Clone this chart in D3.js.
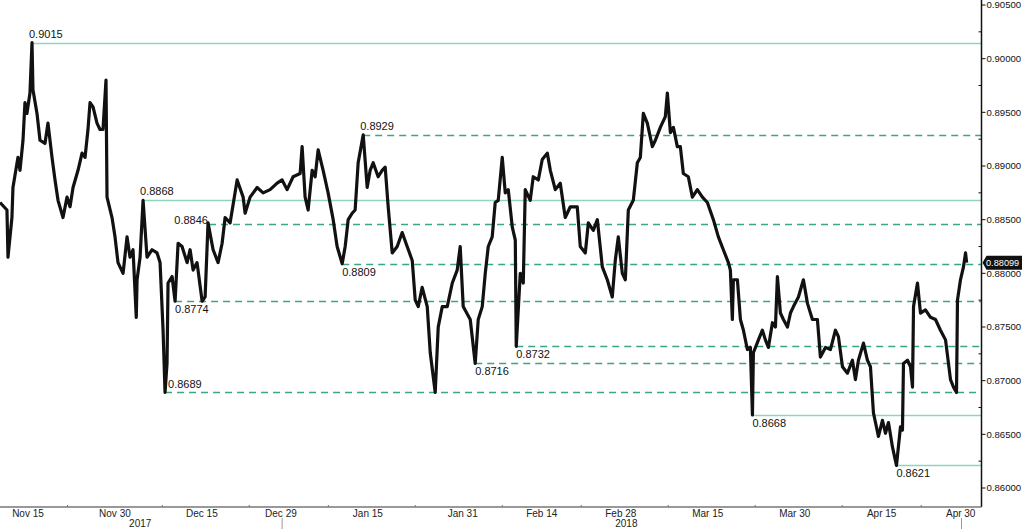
<!DOCTYPE html>
<html>
<head>
<meta charset="utf-8">
<script src="https://cdn.jsdelivr.net/npm/d3@7"></script>
<style>
  body { margin: 0; background: #fff; }
  svg { display: block; font-family: "Liberation Sans", Arial, sans-serif; }
</style>
</head>
<body>
<svg id="chart"></svg>
<script>
// EURGBP, hourly, Nov 2017 - Apr 2018 (weekends removed)
// days = trading days counted from Mon 13 Nov 2017

const days = [
  -1.54, -0.66, -0.53, -0.03, 0.10, 0.73, 0.99, 1.37, 1.62, 1.87, 2.25, 2.51, 2.63, 3.14, 3.52,
  4.15, 4.53, 5.04, 5.42, 5.80, 6.43, 6.94, 7.32, 7.70, 8.33, 8.84, 9.22, 9.59, 9.85, 10.23,
  10.73, 11.11, 11.49, 11.87, 12.00, 12.63, 13.01, 13.39, 14.03, 14.53, 14.91, 15.29, 15.70, 15.80,
  16.18, 16.56, 17.06, 17.70, 18.33, 18.71, 19.09, 19.34, 19.59, 19.72, 20.23, 20.61, 20.99, 21.49,
  22.13, 22.51, 22.89, 23.39, 24.03, 24.41, 24.78, 25.42, 26.05, 26.56, 26.94, 27.57, 28.46, 29.22,
  29.47, 30.10, 30.99, 31.75, 32.63, 33.52, 34.15, 34.78, 35.54, 36.43, 36.68, 37.06, 37.44, 37.95,
  38.33, 38.71, 39.34, 39.97, 40.61, 41.11, 41.75, 42.13, 42.51, 43.01, 43.39, 43.77, 44.41, 44.91,
  45.29, 45.67, 46.30, 46.81, 47.19, 47.57, 48.08, 48.71, 49.34, 49.97, 50.61, 50.99, 51.37, 51.87,
  52.51, 52.89, 53.52, 53.90, 54.41, 55.04, 55.68, 56.30, 56.68, 57.06, 57.95, 58.58, 58.96, 59.47,
  59.85, 60.23, 60.73, 61.11, 61.49, 62.00, 62.38, 62.76, 63.27, 63.65, 63.77, 64.28, 64.66, 64.91,
  65.54, 65.92, 66.56, 67.06, 67.70, 68.08, 68.71, 69.34, 69.97, 70.61, 71.49, 71.87, 72.51, 72.89,
  73.52, 74.03, 74.66, 75.29, 75.92, 76.30, 76.68, 77.19, 77.57, 77.95, 78.58, 79.09, 79.47, 79.85,
  80.35, 80.99, 81.37, 82.00, 82.63, 82.89, 83.27, 83.65, 84.15, 84.53, 84.91, 85.54, 86.05, 86.68,
  87.32, 87.95, 88.71, 89.34, 89.97, 90.61, 90.86, 91.11, 91.24, 91.75, 92.13, 92.51, 93.01, 93.39,
  93.65, 93.77, 94.41, 94.91, 95.29, 95.67, 96.18, 96.56, 96.81, 97.19, 97.57, 98.08, 98.46, 98.84,
  99.47, 100.10, 100.61, 101.24, 101.87, 102.25, 102.89, 103.52, 104.15, 104.53, 105.04, 105.67,
  106.30, 106.68, 107.06, 107.70, 108.20, 108.58, 108.96, 109.22, 109.59, 110.10, 110.48, 110.86,
  111.37, 111.87, 112.38, 112.63, 112.76, 113.27, 113.65, 113.90, 114.03, 114.53, 114.91, 115.54,
  116.18, 116.81, 117.44, 118.08, 118.71, 119.09, 119.47, 119.59, 119.97, 120.35, 120.61, 120.75
];

const prices = [
  0.8866, 0.8859, 0.8815, 0.8852, 0.8880, 0.8908, 0.8896, 0.8924, 0.8959, 0.8949, 0.8968, 0.9015, 0.8971, 0.8949, 0.8924,
  0.8921, 0.8940, 0.8908, 0.8887, 0.8868, 0.8852, 0.8871, 0.8862, 0.8880, 0.8896, 0.8912, 0.8908, 0.8934, 0.8959, 0.8955,
  0.8940, 0.8934, 0.8934, 0.8980, 0.8871, 0.8852, 0.8834, 0.8810, 0.8800, 0.8834, 0.8815, 0.8822, 0.8759, 0.8794,
  0.8815, 0.8868, 0.8815, 0.8822, 0.8819, 0.8810, 0.8747, 0.8689, 0.8716, 0.8791, 0.8797, 0.8774, 0.8828, 0.8825,
  0.8810, 0.8822, 0.8803, 0.8810, 0.8774, 0.8778, 0.8847, 0.8822, 0.8810, 0.8828, 0.8852, 0.8847, 0.8887, 0.8871,
  0.8856, 0.8871, 0.8880, 0.8875, 0.8878, 0.8884, 0.8887, 0.8878, 0.8890, 0.8893, 0.8918, 0.8871, 0.8859, 0.8896,
  0.8890, 0.8915, 0.8896, 0.8875, 0.8850, 0.8825, 0.8809, 0.8825, 0.8850, 0.8856, 0.8859, 0.8903, 0.8929, 0.8880,
  0.8896, 0.8903, 0.8890, 0.8896, 0.8899, 0.8862, 0.8819, 0.8825, 0.8838, 0.8825, 0.8812, 0.8775, 0.8769, 0.8787,
  0.8769, 0.8726, 0.8689, 0.8750, 0.8769, 0.8769, 0.8791, 0.8803, 0.8825, 0.8769, 0.8757, 0.8716, 0.8757, 0.8769,
  0.8800, 0.8825, 0.8834, 0.8866, 0.8868, 0.8908, 0.8875, 0.8878, 0.8843, 0.8831, 0.8732, 0.8800, 0.8791, 0.8878,
  0.8868, 0.8890, 0.8887, 0.8906, 0.8912, 0.8896, 0.8878, 0.8884, 0.8852, 0.8862, 0.8862, 0.8825, 0.8819, 0.8847,
  0.8840, 0.8850, 0.8806, 0.8794, 0.8778, 0.8812, 0.8834, 0.8800, 0.8794, 0.8859, 0.8868, 0.8903, 0.8908, 0.8949,
  0.8940, 0.8918, 0.8924, 0.8936, 0.8946, 0.8968, 0.8931, 0.8936, 0.8918, 0.8918, 0.8893, 0.8890, 0.8871, 0.8878,
  0.8871, 0.8866, 0.8850, 0.8834, 0.8822, 0.8810, 0.8803, 0.8757, 0.8794, 0.8794, 0.8757, 0.8747, 0.8729, 0.8731,
  0.8668, 0.8726, 0.8738, 0.8747, 0.8738, 0.8731, 0.8754, 0.8750, 0.8797, 0.8763, 0.8757, 0.8750, 0.8763, 0.8769,
  0.8778, 0.8794, 0.8772, 0.8757, 0.8757, 0.8722, 0.8731, 0.8729, 0.8747, 0.8741, 0.8713, 0.8707,
  0.8719, 0.8701, 0.8719, 0.8735, 0.8719, 0.8713, 0.8670, 0.8661, 0.8648, 0.8663, 0.8651, 0.8661,
  0.8638, 0.8621, 0.8657, 0.8654, 0.8716, 0.8719, 0.8713, 0.8694, 0.8769, 0.8791, 0.8763, 0.8766,
  0.8759, 0.8757, 0.8747, 0.8738, 0.8701, 0.8694, 0.8689, 0.8775, 0.8794, 0.8806, 0.8819, 0.8810
];

const lastPrice = 0.88099;

// highs / lows marked on the chart
const levelValues = [0.9015, 0.8929, 0.8868, 0.8846, 0.8809, 0.8774, 0.8732, 0.8716, 0.8689, 0.8668, 0.8621];
const levelDays   = [2.51, 44.41, 16.56, 24.9, 41.75, 20.61, 63.77, 58.58, 19.34, 93.65, 111.87];
const levelKinds  = ["high", "high", "high", "high", "low", "low", "low", "low", "low", "low", "low"];

// axis ticks
const priceTicks = d3.range(0, 10).map(k => +(0.86 + k * 0.005).toFixed(3));
const dateTickDays = [2, 13, 24, 34, 45, 57, 67, 77, 88, 99, 110, 120];
const dateTickLabels = ["Nov 15", "Nov 30", "Dec 15", "Dec 29", "Jan 15", "Jan 31",
                        "Feb 14", "Feb 28", "Mar 15", "Mar 30", "Apr 15", "Apr 30"];
const minorTickDays = [7, 19, 30, 40, 51, 62, 72, 83, 94, 105, 115];
const yearLabels = ["2017", "2018"];
const yearLabelDays = [16.2, 77.7];
const yearBreakDays = [34.15, 120.1];

// layout
const width = 1023;
const height = 529;
const plotRight = 981.5;
const plotBottom = 507;

const solidLevels = [0.9015, 0.8868, 0.8668, 0.8621];
const solidColor = "#8dd5bd";
const dashColor = "#3aa587";

const x = d3.scaleLinear().domain([-1.54, 122.63]).range([0, plotRight]);
const y = d3.scaleLinear().domain([0.86, 0.905]).range([488, 5]);

const svg = d3.select("#chart")
  .attr("width", width)
  .attr("height", height);

svg.append("rect").attr("width", width).attr("height", height).attr("fill", "#fff");

// level lines

const levels = levelValues.map((v, i) => ({ v: v, day: levelDays[i], kind: levelKinds[i] }));

svg.append("g").selectAll("line")
  .data(levels)
  .enter()
  .append("line")
  .attr("x1", d => x(d.day))
  .attr("x2", plotRight)
  .attr("y1", d => Math.round(y(d.v)) + 0.5)
  .attr("y2", d => Math.round(y(d.v)) + 0.5)
  .attr("stroke", d => solidLevels.includes(d.v) ? solidColor : dashColor)
  .attr("stroke-width", d => solidLevels.includes(d.v) ? 1.6 : 1.3)
  .attr("stroke-dasharray", d => solidLevels.includes(d.v) ? null : "7,5");

// price line

const series = days.map((d, i) => ({ day: d, v: prices[i] }));

svg.append("path")
  .datum(series)
  .attr("fill", "none")
  .attr("stroke", "#111")
  .attr("stroke-width", 3.2)
  .attr("stroke-linejoin", "round")
  .attr("d", d3.line().x(d => x(d.day)).y(d => y(d.v)));

// level labels

function labelPos(d) {
  // placement picked to keep the text off the price line
  if (d.v === 0.8846) return { dx: -1, dy: 0, anchor: "end" };
  if (d.v === 0.8689) return { dx: 3, dy: -4, anchor: "start" };
  if (d.kind === "high") return { dx: -3, dy: -5, anchor: "start" };
  return { dx: 0, dy: 12, anchor: "start" };
}

svg.append("g").selectAll("text")
  .data(levels)
  .enter()
  .append("text")
  .attr("x", d => x(d.day) + labelPos(d).dx)
  .attr("y", d => y(d.v) + labelPos(d).dy)
  .attr("text-anchor", d => labelPos(d).anchor)
  .attr("font-size", 11)
  .attr("fill", "#111")
  .text(d => d.v.toFixed(4));

// right axis

const yAxis = svg.append("g");

yAxis.append("line")
  .attr("x1", plotRight).attr("x2", plotRight)
  .attr("y1", 0).attr("y2", plotBottom)
  .attr("stroke", "#111").attr("stroke-width", 1.5);

yAxis.selectAll(".major")
  .data(priceTicks)
  .enter()
  .append("line")
  .attr("x1", plotRight).attr("x2", plotRight + 4)
  .attr("y1", d => y(d)).attr("y2", d => y(d))
  .attr("stroke", "#111");

yAxis.selectAll(".minor")
  .data(priceTicks.map(d => d + 0.0025).filter(d => y(d) > 0))
  .enter()
  .append("line")
  .attr("x1", plotRight - 3).attr("x2", plotRight)
  .attr("y1", d => y(d)).attr("y2", d => y(d))
  .attr("stroke", "#111");

yAxis.selectAll("text")
  .data(priceTicks)
  .enter()
  .append("text")
  .attr("x", plotRight + 5)
  .attr("y", d => y(d))
  .attr("dy", "0.35em")
  .attr("font-size", 9.6)
  .attr("fill", "#111")
  .text(d3.format(".5f"));

// last price tag

const tagY = y(lastPrice);
svg.append("path")
  .attr("d", `M${plotRight + 1},${tagY} L${plotRight + 5},${tagY - 7} H1022 V${tagY + 7} H${plotRight + 5} Z`)
  .attr("fill", "#111");

svg.append("text")
  .attr("x", plotRight + 4.5)
  .attr("y", tagY)
  .attr("dy", "0.35em")
  .attr("font-size", 9.2)
  .attr("fill", "#fff")
  .text(d3.format(".5f")(lastPrice));

// bottom axis

const xAxis = svg.append("g");

xAxis.append("line")
  .attr("x1", 0).attr("x2", plotRight)
  .attr("y1", plotBottom).attr("y2", plotBottom)
  .attr("stroke", "#777").attr("stroke-width", 1.4);

xAxis.selectAll(".minor")
  .data(minorTickDays)
  .enter()
  .append("line")
  .attr("x1", d => x(d)).attr("x2", d => x(d))
  .attr("y1", plotBottom - 2).attr("y2", plotBottom)
  .attr("stroke", "#777");

xAxis.selectAll(".break")
  .data(yearBreakDays)
  .enter()
  .append("line")
  .attr("x1", d => x(d)).attr("x2", d => x(d))
  .attr("y1", plotBottom + 11).attr("y2", height)
  .attr("stroke", "#999");

xAxis.selectAll(".date")
  .data(dateTickDays)
  .enter()
  .append("text")
  .attr("x", d => x(d))
  .attr("y", plotBottom + 10)
  .attr("text-anchor", "middle")
  .attr("font-size", 10)
  .attr("fill", "#222")
  .text((d, i) => dateTickLabels[i]);

xAxis.selectAll(".year")
  .data(yearLabelDays)
  .enter()
  .append("text")
  .attr("x", d => x(d))
  .attr("y", plotBottom + 20)
  .attr("text-anchor", "middle")
  .attr("font-size", 10)
  .attr("fill", "#222")
  .text((d, i) => yearLabels[i]);
</script>
</body>
</html>
